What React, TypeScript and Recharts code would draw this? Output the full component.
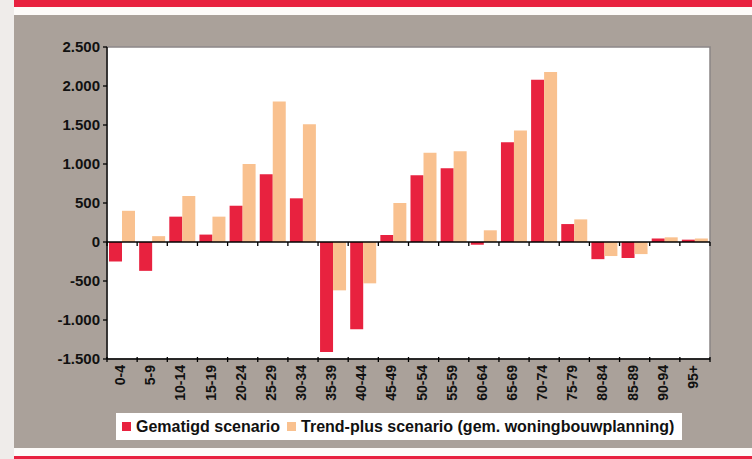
import { BarChart, Bar, XAxis, YAxis, CartesianGrid, ReferenceLine, ReferenceArea } from 'recharts';

const cats = ['0-4', '5-9', '10-14', '15-19', '20-24', '25-29', '30-34', '35-39', '40-44', '45-49',
  '50-54', '55-59', '60-64', '65-69', '70-74', '75-79', '80-84', '85-89', '90-94', '95+'];
const gematigd = [-250, -370, 325, 95, 465, 870, 560, -1410, -1120, 90, 855, 945, -35, 1280, 2080, 230, -220, -205, 45, 30];
const trendPlus = [400, 75, 590, 325, 1000, 1800, 1510, -620, -530, 500, 1145, 1165, 150, 1430, 2180, 290, -180, -155, 60, 45];
const yTicks = [-1500, -1000, -500, 0, 500, 1000, 1500, 2000, 2500];

const series = [
  { key: 'gematigd', name: 'Gematigd scenario', color: '#e8223f' },
  { key: 'trendPlus', name: 'Trend-plus scenario (gem. woningbouwplanning)', color: '#f9c18f' },
];

const data = cats.map((c, i) => ({ cat: c, gematigd: gematigd[i], trendPlus: trendPlus[i] }));

const FONT = '"Liberation Sans", Arial, sans-serif';
const W = 752;
const H = 459;
const M = { top: 47, right: 42, left: 47, bottom: 0 };
const Y_W = 60;
const X_H = 100;
const plotW = W - M.left - Y_W - M.right;
const step = plotW / cats.length;

const nl = (v: number) => {
  const s = Math.abs(v).toString().replace(/\B(?=(\d{3})+(?!\d))/g, '.');
  return (v < 0 ? '-' : '') + s;
};

function CatTick(props: any) {
  const { x, y, payload, index } = props;
  const left = x - step / 2;
  return (
    <g>
      <line x1={left} x2={left} y1={y - 8} y2={y - 3} stroke="#000" strokeWidth={1.3} />
      {index === cats.length - 1 && (
        <line x1={x + step / 2} x2={x + step / 2} y1={y - 8} y2={y - 3} stroke="#000" strokeWidth={1.3} />
      )}
      <text
        x={x - 2}
        y={y}
        transform={`rotate(-90, ${x - 2}, ${y})`}
        textAnchor="end"
        dominantBaseline="central"
        fontFamily={FONT}
        fontWeight="bold"
        fontSize={14}
        fill="#111"
      >
        {payload.value}
      </text>
    </g>
  );
}

function ZeroLine(props: any) {
  const { x1, x2, y1 } = props;
  const n = cats.length;
  const w = (x2 - x1) / n;
  return (
    <g>
      <line x1={x1} x2={x2} y1={y1} y2={y1} stroke="#000" strokeWidth={1.3} />
      {Array.from({ length: n + 1 }, (_, i) => (
        <line key={i} x1={x1 + i * w} x2={x1 + i * w} y1={y1} y2={y1 + 4} stroke="#000" strokeWidth={1.3} />
      ))}
    </g>
  );
}

const strip = (left: number, top: number, width: number, height: number, bg: string) => (
  <div style={{ position: 'absolute', left, top, width, height, background: bg, zIndex: 2 }} />
);

export default function App() {
  return (
    <div style={{ position: 'absolute', left: 0, top: 0, width: W, height: H, background: '#aaa19a', overflow: 'hidden', fontFamily: FONT }}>
      <div style={{ position: 'absolute', left: 0, top: 0, zIndex: 1 }}>
        <BarChart width={W} height={H} data={data} margin={M} barCategoryGap={2} barGap={0}>
          <ReferenceArea y1={-1500} y2={2500} fill="#ffffff" fillOpacity={1} stroke="#8a8585" strokeWidth={1.5} />
          <CartesianGrid vertical={false} stroke="#b3acb1" strokeWidth={1.5} />
          <XAxis
            dataKey="cat"
            height={X_H}
            interval={0}
            tickLine={false}
            axisLine={{ stroke: '#000', strokeWidth: 1.3 }}
            tick={<CatTick />}
            tickMargin={0}
          />
          <YAxis
            width={Y_W}
            domain={[-1500, 2500]}
            ticks={yTicks}
            tickFormatter={nl}
            axisLine={{ stroke: '#000', strokeWidth: 1.3 }}
            tickLine={{ stroke: '#000', strokeWidth: 1.3 }}
            tickSize={4}
            tickMargin={3}
            tick={{ fill: '#111', fontSize: 15, fontWeight: 'bold', fontFamily: FONT }}
          />
          <ReferenceLine y={0} shape={<ZeroLine />} />
          {series.map((s) => (
            <Bar key={s.key} dataKey={s.key} name={s.name} fill={s.color} isAnimationActive={false} />
          ))}
        </BarChart>
      </div>
      {strip(0, 0, 14, H, '#efecea')}
      {strip(14, 0, W - 14, 7, '#e8213f')}
      {strip(14, 7, W - 14, 8, '#fdfbf9')}
      {strip(14, 448, W - 14, 8, '#fdfbf9')}
      {strip(14, 456, W - 14, 3, '#e8213f')}
      <div
        style={{
          position: 'absolute', left: 116, top: 413, width: 566, height: 27, background: '#fff', zIndex: 2,
          display: 'flex', alignItems: 'center', fontWeight: 'bold', fontSize: 16, color: '#111',
        }}
      >
        {series.map((s, i) => (
          <div key={s.key} style={{ display: 'flex', alignItems: 'center', marginLeft: i === 0 ? 6 : 7 }}>
            <span style={{ width: 9, height: 9, background: s.color, display: 'inline-block', marginRight: 5 }} />
            <span>{s.name}</span>
          </div>
        ))}
      </div>
    </div>
  );
}
